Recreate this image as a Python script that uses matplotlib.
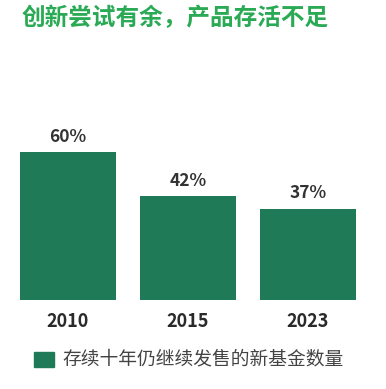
import matplotlib
matplotlib.use("Agg")
import matplotlib.pyplot as plt
from matplotlib.patches import Rectangle

plt.rcParams['font.family'] = ['Noto Sans CJK SC', 'DejaVu Sans']

years = ["2010", "2015", "2023"]
values = [60, 42, 37]
value_labels = ["60%", "42%", "37%"]
title = "创新尝试有余，产品存活不足"
legend_label = "存续十年仍继续发售的新基金数量"

bar_color = "#1e7a57"
W, H = 386, 389
fig = plt.figure(figsize=(W / 100, H / 100), dpi=100)
fig.patch.set_facecolor("white")

ax = fig.add_axes([8 / W, 89 / H, 360 / W, 148 / H])
x = range(len(years))
ax.bar(x, values, width=0.8, color=bar_color)
ax.set_xlim(-0.5, 2.5)
ax.set_ylim(0, 60)
ax.axis("off")

for i, (v, lab) in enumerate(zip(values, value_labels)):
    ax.annotate(lab, (i, v), xytext=(0, 11), textcoords="offset points",
                ha="center", va="center", fontsize=12.5, fontweight="bold",
                color="#333333", annotation_clip=False)
    ax.annotate(years[i], (i, 0), xytext=(0, -15.5), textcoords="offset points",
                ha="center", va="center", fontsize=13, fontweight="bold",
                color="#2a2a2a", annotation_clip=False)

fig.text(22 / W, 1 - 18 / H, title, ha="left", va="center", fontsize=17,
         fontweight="bold", color="#2aaa55")

fig.patches.append(Rectangle((34 / W, 1 - 367 / H), 20 / W, 15 / H,
                             transform=fig.transFigure, color=bar_color))
fig.text(62 / W, 1 - 359 / H, legend_label, ha="left", va="center",
         fontsize=13.5, color="#444444")

fig.savefig("out.png", dpi=100, facecolor="white")
